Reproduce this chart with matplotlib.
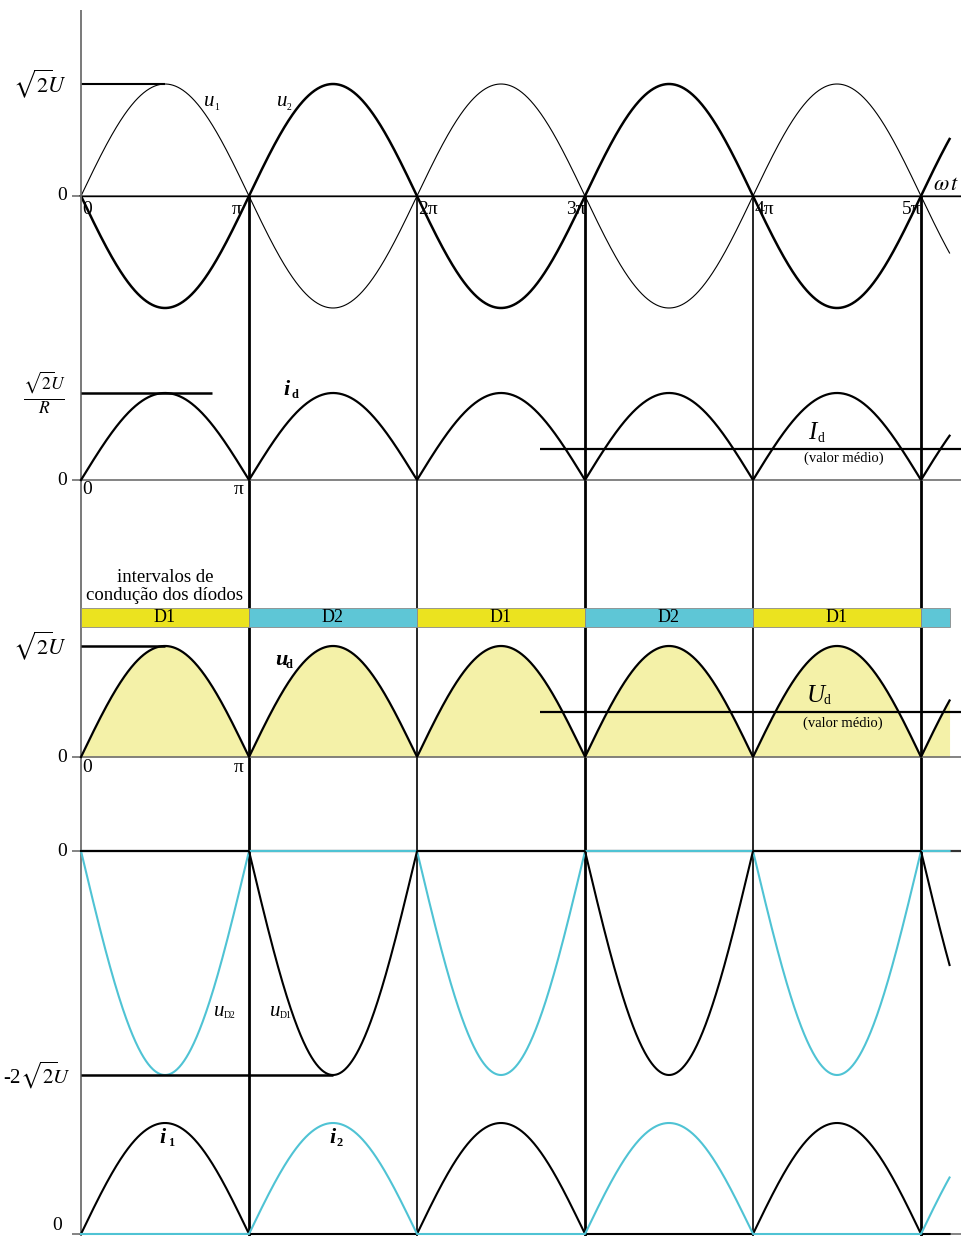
import numpy as np
import matplotlib.pyplot as plt

plt.rcParams['font.family'] = ['Liberation Serif', 'DejaVu Serif']
plt.rcParams['mathtext.fontset'] = 'stix'

W, H = 962, 1236
X0, PI_PX = 81, 168          # pixel of wt=0, pixels per pi

# ---- data (wt in multiples of pi, values normalised to sqrt(2)U) ----
periods = [0, 1, 2, 3, 4, 5]
tick_labels = ['0', 'π', '2π', '3π', '4π', '5π']
t_end = 5.17
diodes = ['D1', 'D2', 'D1', 'D2', 'D1', '']
u_peak = 1.0
uD_peak = -2.0
id_mean = 0.36
ud_mean = 0.405
mean_start = 2.73

YELLOW = '#ebe31f'
CYAN = '#5ec6d6'
CYAN_LINE = '#4fc3d4'
FILL = '#f4f1a8'
GRAY = '#6e6e6e'

fig = plt.figure(figsize=(W / 100, H / 100), dpi=100)
XMAX = (W - X0) / PI_PX


def panel(y0, amp):
    # one transparent axes over the whole figure, own vertical scale
    ax = fig.add_axes([0, 0, 1, 1])
    ax.set_xlim(-X0 / PI_PX, XMAX)
    ax.set_ylim((y0 - H) / amp, y0 / amp)
    ax.axis('off')
    ax.patch.set_visible(False)
    ax.hlines(0, -9 / PI_PX, XMAX, color=GRAY, lw=1.2)
    return ax


def txt(x, y, s, size=14, **kw):
    kw.setdefault('ha', 'center')
    kw.setdefault('va', 'center')
    fig.text(x / W, 1 - y / H, s, fontsize=size, **kw)


def sub_label(x, y, main, sub, size=16, bold=True, sub_size=None, dx=5):
    w = 'bold' if bold else 'normal'
    txt(x, y, main, size=size, style='italic', weight=w)
    txt(x + dx, y + 5, sub, size=sub_size or size * 0.55, weight=w, ha='left')


t = np.linspace(0, t_end, 1500)
u1 = u_peak * np.sin(np.pi * t)
u2 = -u1
ud = np.abs(u1)
uD1 = np.where(u1 >= 0, 0, 2 * u1)
uD2 = np.where(u2 >= 0, 0, 2 * u2)
i1 = np.where(u1 > 0, u1, 0)
i2 = np.where(u2 > 0, u2, 0)

ROOT = r'$\sqrt{2}\!U$'

# ---- panel 1: u1, u2 ----
ax1 = panel(196, 112)
ax1.hlines(0, 0, XMAX, color='black', lw=1.0)
ax1.plot(t, u1, color='black', lw=0.8)
ax1.plot(t, u2, color='black', lw=1.8)
ax1.hlines(u_peak, 0, 0.5, color='black', lw=1.5)
ax1.vlines(0, -9.3, (196 - 10) / 112, color=GRAY, lw=1.3)
for p in periods[1:]:
    ax1.vlines(p, -9.3, 0, color='black', lw=2.0 if p % 2 else 1.2)

txt(67, 84, ROOT, size=16, ha='right')
txt(67, 196, '0', ha='right')
offsets = [6, -12, 11, -9, 11, -9]
for p, lab, o in zip(periods, tick_labels, offsets):
    txt(X0 + p * PI_PX + o, 210, lab, size=14)
txt(946, 186, r'$\omega\, t$', size=16)
sub_label(209, 102, 'u', '1', size=15, bold=False, sub_size=7)
sub_label(282, 102, 'u', '2', size=15, bold=False, sub_size=7)

# ---- panel 2: id ----
ax2 = panel(480, 87)
ax2.plot(t, ud, color='black', lw=1.6)
ax2.hlines(u_peak, 0, 0.78, color='black', lw=1.8)
ax2.hlines(id_mean, mean_start, XMAX, color='black', lw=1.6)
txt(44, 393, r'$\frac{\sqrt{2}\!U}{R}$', size=18)
txt(67, 480, '0', ha='right')
txt(87, 490, '0')
txt(239, 490, 'π')
sub_label(287, 390, 'i', 'd')
sub_label(812, 433, 'I', 'd', bold=False, size=18, dx=6)
txt(844, 458, '(valor médio)', size=10.5)

# ---- panel 3: conduction intervals and ud ----
ax3 = panel(757, 111)
lefts = periods
widths = [1, 1, 1, 1, 1, t_end - 5]
colors = [YELLOW if d == 'D1' else CYAN for d in diodes]
ax3.bar(lefts, [0.171] * 6, width=widths, bottom=1.171, align='edge',
        color=colors, edgecolor='#8a8a8a', lw=0.6)
for lft, wd, d in zip(lefts, widths, diodes):
    txt(X0 + (lft + wd / 2) * PI_PX, 618, d, size=13)
txt(165, 577, 'intervalos de', size=13.5)
txt(165, 596, 'condução dos díodos', size=13.5)
ax3.fill_between(t, 0, ud, color=FILL, lw=0)
ax3.plot(t, ud, color='black', lw=1.6)
ax3.hlines(u_peak, 0, 0.5, color='black', lw=1.8)
ax3.hlines(ud_mean, mean_start, XMAX, color='black', lw=1.6)
txt(67, 646, ROOT, size=16, ha='right')
txt(67, 757, '0', ha='right')
txt(87, 768, '0')
txt(239, 768, 'π')
sub_label(281, 660, 'u', 'd')
sub_label(816, 696, 'U', 'd', bold=False, size=18, dx=8)
txt(843, 723, '(valor médio)', size=10.5)

# ---- panel 4: diode voltages ----
ax4 = panel(851, 112)
ax4.hlines(0, 0, XMAX, color='#333333', lw=1.6)
ax4.plot(t, uD2, color=CYAN_LINE, lw=1.5)
ax4.plot(t, uD1, color='black', lw=1.5)
ax4.hlines(uD_peak, 0, 1.5, color='black', lw=1.8)
txt(67, 851, '0', ha='right')
txt(71, 1075, r'-2$\sqrt{2}\!U$', size=15, ha='right')
sub_label(219, 1011, 'u', 'D2', size=15, bold=False, sub_size=7)
sub_label(275, 1011, 'u', 'D1', size=15, bold=False, sub_size=7)

# ---- panel 5: i1, i2 ----
ax5 = panel(1234, 111)
ax5.plot(t, i1, color='black', lw=1.5)
ax5.plot(t, i2, color=CYAN_LINE, lw=1.5)
txt(62, 1226, '0', ha='right')
sub_label(163, 1138, 'i', '1')
sub_label(332, 1138, 'i', '2')

fig.savefig('out.png', dpi=100)
